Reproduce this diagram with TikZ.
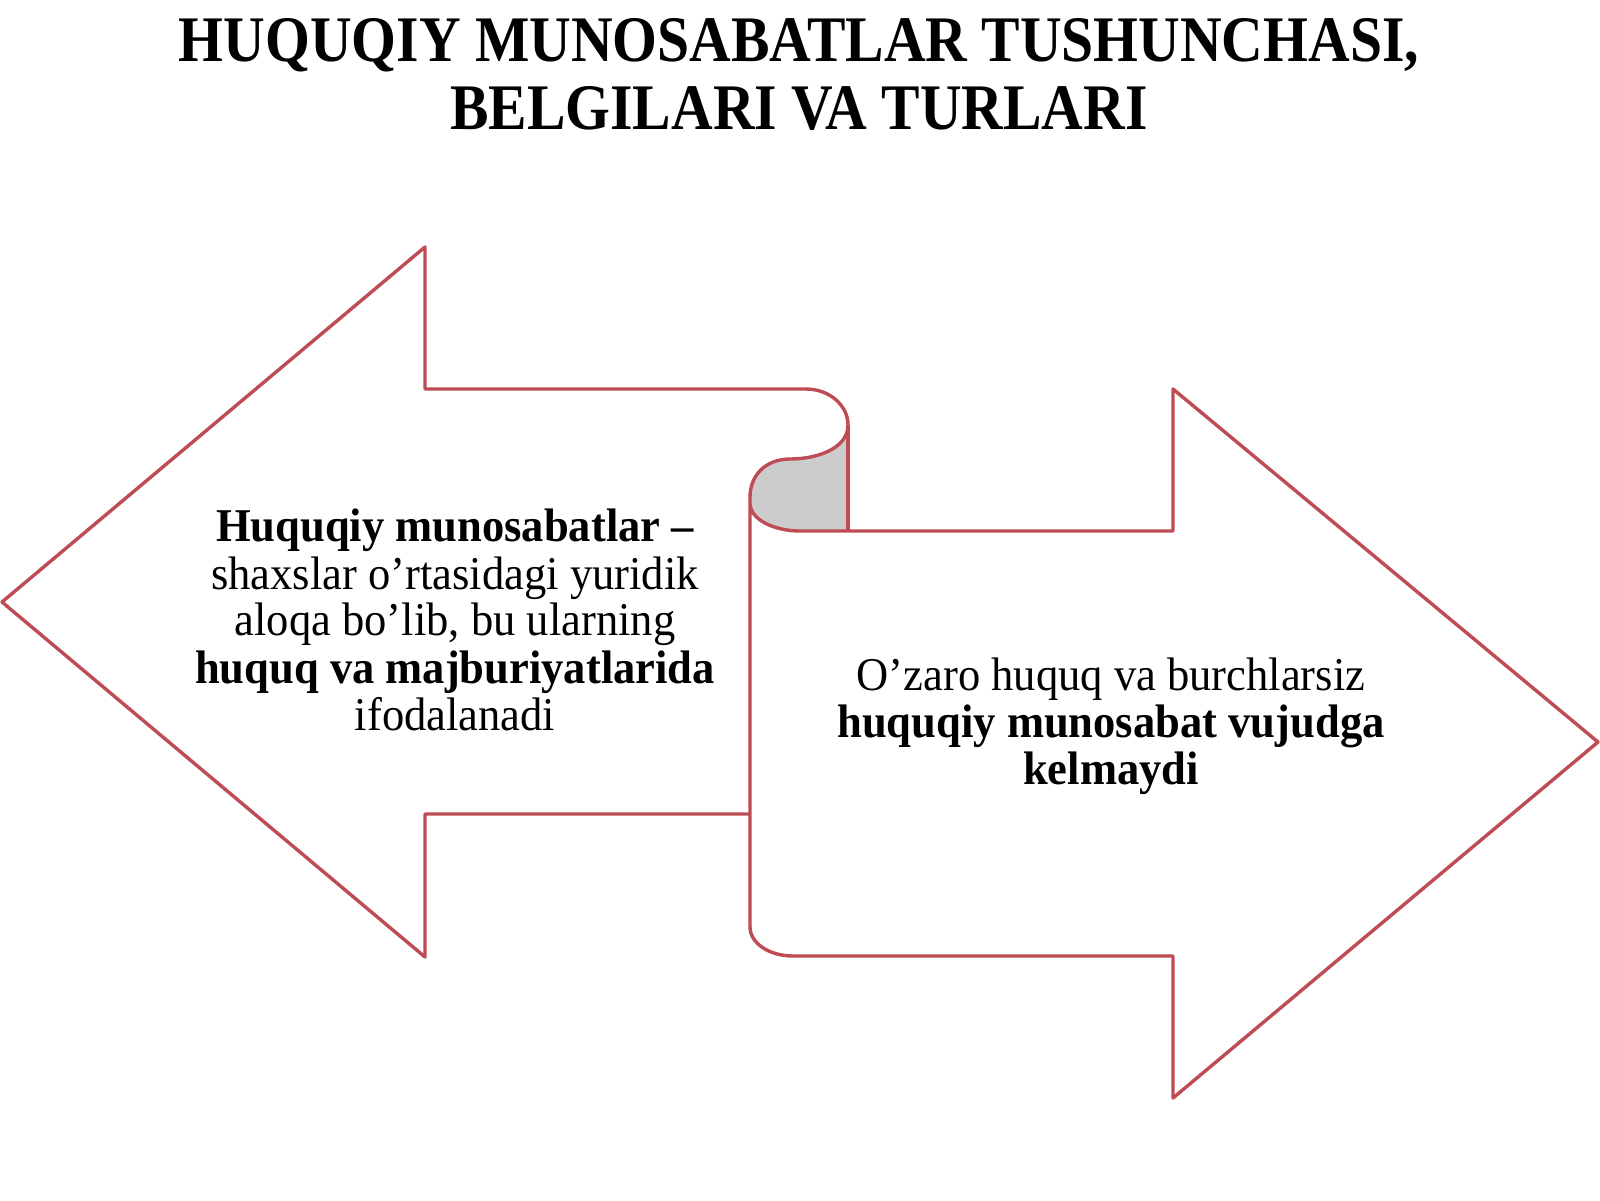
\documentclass[tikz,border=0pt]{standalone}
\usepackage{fontspec}
\setmainfont{Liberation Serif}
\usepackage{graphicx}
\definecolor{arrowred}{RGB}{190,76,84}
\definecolor{curlgray}{RGB}{204,204,204}
\newcommand\hsqt[1]{\scalebox{0.887}[1]{#1}}
\newcommand\hsqb[1]{\scalebox{0.948}[1]{#1}}
\begin{document}
\begin{tikzpicture}[x=1pt,y=-1pt,
  outline/.style={draw=arrowred,line width=3.4pt,line join=round},
  titletxt/.style={anchor=base,inner sep=0pt,font=\fontsize{65}{68}\selectfont\bfseries},
  bodytxt/.style={anchor=base,inner sep=0pt,font=\fontsize{47}{48}\selectfont}]
\useasboundingbox[fill=white] (0,0) rectangle (1600,1200);
% title
\node[titletxt] (t1) at (799,61) {\hsqt{HUQUQIY MUNOSABATLAR TUSHUNCHASI,}};
\node[titletxt] (t2) at (799,129) {\hsqt{BELGILARI VA TURLARI}};
% gray curl
\fill[curlgray] (848,425) .. controls (848,448) and (818,459) .. (790,459)
  .. controls (766,459) and (750,475) .. (750,497) -- (750,503)
  .. controls (750,520) and (775,531) .. (800,531) -- (848,531) -- cycle;
% left arrow
\draw[outline] (750,814) -- (425,814) -- (425,957) -- (2,602) -- (425,247) -- (425,389) -- (806,389)
  .. controls (829,389) and (848,405) .. (848,425)
  .. controls (848,448) and (818,459) .. (790,459)
  .. controls (766,459) and (750,475) .. (750,497);
% right arrow
\draw[outline] (750,497) -- (750,927) .. controls (750,943) and (769,956) .. (793,956)
  -- (1173,956) -- (1173,1098) -- (1598,742) -- (1173,389) -- (1173,531) -- (800,531)
  .. controls (775,531) and (750,520) .. (750,503);
\draw[outline] (848,425) -- (848,531);
% left text
\node[bodytxt] (l1) at (455,541) {\hsqb{\bfseries Huquqiy munosabatlar –}};
\node[bodytxt] (l2) at (455,589) {\hsqb{shaxslar o’rtasidagi yuridik}};
\node[bodytxt] (l3) at (455,635) {\hsqb{aloqa bo’lib, bu ularning}};
\node[bodytxt] (l4) at (455,683) {\hsqb{\bfseries huquq va majburiyatlarida}};
\node[bodytxt] (l5) at (455,730) {\hsqb{ifodalanadi}};
% right text
\node[bodytxt] (r1) at (1111,690) {\hsqb{O’zaro huquq va burchlarsiz}};
\node[bodytxt] (r2) at (1111,737) {\hsqb{\bfseries huquqiy munosabat vujudga}};
\node[bodytxt] (r3) at (1111,784) {\hsqb{\bfseries kelmaydi}};
\end{tikzpicture}
\end{document}
